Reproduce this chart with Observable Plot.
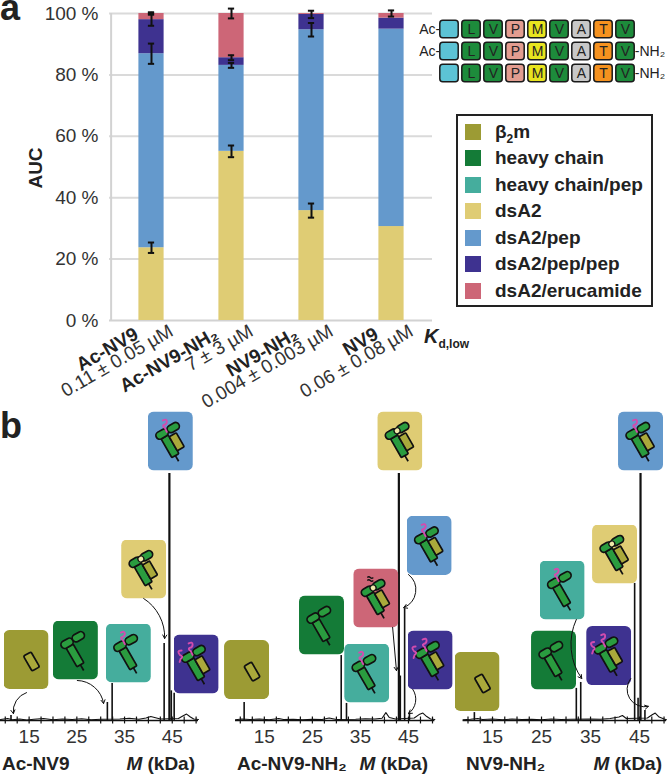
<!DOCTYPE html>
<html><head><meta charset="utf-8">
<script src="https://cdn.jsdelivr.net/npm/d3@7"></script>
<script src="https://cdn.jsdelivr.net/npm/@observablehq/plot@0.6"></script>
<style>
html,body{margin:0;padding:0;background:#fff;}
body{width:668px;height:775px;position:relative;overflow:hidden;font-family:"Liberation Sans",Arial,Helvetica,sans-serif;}
.abs{position:absolute;}
svg{overflow:visible;}
.sb{font-size:12px;position:relative;top:5px;}
</style></head><body>
<script>
const FONT = '"Liberation Sans", Arial, Helvetica, sans-serif';

// ---------------- Panel a data ----------------
const peptides = ["Ac-NV9", "Ac-NV9-NH₂", "NV9-NH₂", "NV9"];
const kdLabels = ["0.11 ± 0.05 µM", "7 ± 3 µM", "0.004 ± 0.003 µM", "0.06 ± 0.08 µM"];
const speciesKeys = ["b2m", "hc", "hcpep", "dsA2", "dsA2pep", "dsA2pep2", "dsA2eruc"];
const speciesNames = ["β<span class='sb'>2</span>m", "heavy chain", "heavy chain/pep", "dsA2", "dsA2/pep", "dsA2/pep/pep", "dsA2/erucamide"];
const speciesColors = ["#9c9b34", "#147b37", "#45ad9d", "#dfcc74", "#6499cc", "#3e3290", "#cd6677"];
const barSpecies = ["dsA2", "dsA2pep", "dsA2pep2", "dsA2eruc"];
const dsA2Share   = [23.7, 55.1, 35.8, 30.6];
const pepShare    = [63.2, 28.0, 58.9, 64.3];
const pepPepShare = [11.1, 2.5, 5.0, 3.6];
const erucShare   = [2.0, 14.4, 0.3, 1.5];
const dsA2Err   = [1.7, 1.9, 2.3, null];
const pepErr    = [3.3, 0.8, 2.2, null];
const pepPepErr = [2.0, 0.8, 1.2, null];
const erucErr   = [0.4, 1.6, null, 1.0];
const pctTicks = [0, 20, 40, 60, 80, 100];

// peptide sequence schematic
const seqRows = ["Ac-NV9", "Ac-NV9-NH₂", "NV9-NH₂"];
const seqResidues = ["", "L", "V", "P", "M", "V", "A", "T", "V"];
const seqColors = ["#5cc3d5", "#1d8b3b", "#1d8b3b", "#e39d90", "#e8e41f", "#1d8b3b", "#c8c8c8", "#f5921f", "#1d8b3b"];
const nTerm = ["Ac-", "Ac-", ""];
const cTerm = ["", "-NH₂", "-NH₂"];

// ---------------- Panel b data (M in kDa, relative intensity %) ----------------
const massTicks = [15, 25, 35, 45];
const minorMassTicks = [10, 12.5, 15, 17.5, 20, 22.5, 25, 27.5, 30, 32.5, 35, 37.5, 40, 42.5, 45, 47.5, 50];

const acNV9Peaks = [[11.2, 2], [31.4, 7.3], [32.4, 15], [43.3, 31.2], [44.4, 100], [44.8, 12], [45.4, 11]];
const acNV9NH2Peaks = [[10.8, 7.3], [31.0, 26.3], [32.1, 6.9], [43.0, 100], [43.3, 18], [44.2, 45.3], [45.2, 3]];
const nv9NH2Peaks = [[11.3, 3.2], [32.1, 13], [33.0, 15.4], [44.0, 55.5], [44.7, 9], [45.2, 100], [46.1, 4]];

const acNV9Noise = [[9,0.4],[10.5,0.8],[11.5,0.3],[13,0.6],[14.5,0.2],[16,0.5],[18,0.8],[20,0.3],[22,0.6],[24,0.4],[26,0.7],[28,0.3],[30,0.5],[34,0.6],[36,0.9],[38,0.5],[39.5,1.0],[40.5,1.6],[41.3,1.2],[42.5,0.6],[46.3,0.8],[47.2,1.8],[48,2.6],[48.8,1.4],[49.5,0.6],[50.5,0.4]];
const acNV9NH2Noise = [[9,0.3],[10.3,0.6],[12,0.4],[14,0.6],[16,0.3],[18,0.8],[19,0.4],[21,0.5],[23,0.3],[25,0.5],[27,0.4],[28.5,1.0],[30,0.4],[34,0.5],[36,0.7],[38,0.6],[39.5,0.9],[40.3,3.2],[41,1.2],[42.3,0.6],[46.2,1.0],[47.2,2.4],[48,3.0],[48.8,1.6],[49.6,0.6],[50.5,0.4]];
const nv9NH2Noise = [[9,0.3],[10.5,0.5],[12,0.8],[13,0.4],[15,0.6],[17,0.3],[19,0.6],[21,0.4],[23,0.5],[25,0.3],[27,0.6],[29,0.4],[31,0.5],[35,0.6],[37,0.5],[39,0.8],[40.8,1.4],[41.5,2.0],[42.3,0.8],[46.6,1.0],[47.5,2.2],[48.2,3.0],[49,1.4],[50,0.6],[50.5,0.3]];

const acNV9Icons = [
  {sp: "b2m", M: 14.35, v: 24.7}, {sp: "hc", M: 24.7, v: 28.5}, {sp: "hcpep", M: 35.8, v: 27.3},
  {sp: "dsA2", M: 39.0, v: 61.3}, {sp: "dsA2pep", M: 44.6, v: 113.2}, {sp: "dsA2pep2", M: 50.0, v: 22.9}
];
const acNV9NH2Icons = [
  {sp: "b2m", M: 11.3, v: 20.6}, {sp: "hc", M: 26.9, v: 38.7}, {sp: "dsA2eruc", M: 38.2, v: 49.6},
  {sp: "hcpep", M: 36.3, v: 19.2}, {sp: "dsA2", M: 43.2, v: 113.2}, {sp: "dsA2pep", M: 49.3, v: 70.9},
  {sp: "dsA2pep2", M: 49.5, v: 24.5}
];
const nv9NH2Icons = [
  {sp: "b2m", M: 11.84, v: 15.8}, {sp: "hc", M: 27.45, v: 24.5}, {sp: "hcpep", M: 29.2, v: 52.8},
  {sp: "dsA2", M: 39.9, v: 67.4}, {sp: "dsA2pep", M: 45.2, v: 113.2}, {sp: "dsA2pep2", M: 38.7, v: 26.3}
];

const acNV9Arrows = [
  {x1: 14.45, y1: 11.3, x2: 11.7, y2: 2.8, bend: -40},
  {x1: 25.1, y1: 16.2, x2: 30.6, y2: 6.9, bend: 40},
  {x1: 39.0, y1: 49.4, x2: 43.4, y2: 33.2, bend: 30}
];
const acNV9NH2Arrows = [
  {x1: 41.7, y1: 37.7, x2: 42.5, y2: 20.2, bend: 0},
  {x1: 45.0, y1: 59.1, x2: 44.0, y2: 45.7, bend: 60},
  {x1: 45.9, y1: 12.6, x2: 45.0, y2: 2.8, bend: 45}
];
const nv9NH2Arrows = [
  {x1: 32.1, y1: 40.9, x2: 33.2, y2: 17.0, bend: -30},
  {x1: 43.2, y1: 17.0, x2: 46.8, y2: 5.7, bend: -70}
];

// ---------------- helpers ----------------
function place(node, left, top) {
  const d = document.createElement("div");
  d.className = "abs";
  d.style.left = left + "px";
  d.style.top = top + "px";
  d.appendChild(node);
  document.body.appendChild(d);
  return d;
}
const baseStyle = {fontFamily: FONT, overflow: "visible", background: "transparent"};

// ---------------- Panel a: stacked bars ----------------
const shares = {dsA2: dsA2Share, dsA2pep: pepShare, dsA2pep2: pepPepShare, dsA2eruc: erucShare};
const errs = {dsA2: dsA2Err, dsA2pep: pepErr, dsA2pep2: pepPepErr, dsA2eruc: erucErr};
const barRows = [], errRows = [];
peptides.forEach((p, i) => {
  let cum = 0;
  barSpecies.forEach(s => {
    const v = shares[s][i];
    barRows.push({peptide: p, species: s, value: v});
    cum += v;
    const e = errs[s][i];
    if (e != null) errRows.push({peptide: p, y: cum, e});
  });
});
const step = (432 - 109) / peptides.length;
const capInset = step / 2 - 3.5;
const plotA = Plot.plot({
  width: 440, height: 405, marginLeft: 109, marginRight: 8, marginTop: 13, marginBottom: 85,
  style: baseStyle,
  x: {domain: peptides, padding: 0, axis: null},
  y: {domain: [0, 100], axis: null},
  color: {domain: speciesKeys, range: speciesColors},
  marks: [
    Plot.gridY(pctTicks.slice(1), {stroke: "#dadada", strokeOpacity: 1, strokeWidth: 2}),
    Plot.ruleY([0], {stroke: "#d2d2d2", strokeWidth: 2}),
    Plot.ruleX([peptides[0]], {y1: 0, y2: 100, dx: -step / 2, stroke: "#d2d2d2", strokeWidth: 2}),
    Plot.axisY({ticks: pctTicks, tickFormat: d => d + " %", tickSize: 0, tickPadding: 11, fontSize: 19, color: "#333", label: null}),
    Plot.barY(barRows, {x: "peptide", y: "value", fill: "species", order: barSpecies, insetLeft: 27.4, insetRight: 27.4}),
    Plot.ruleX(errRows, {x: "peptide", y1: d => d.y - d.e, y2: d => d.y + d.e, stroke: "#111", strokeWidth: 2}),
    Plot.tickY(errRows, {x: "peptide", y: d => d.y - d.e, insetLeft: capInset, insetRight: capInset, stroke: "#111", strokeWidth: 2}),
    Plot.tickY(errRows, {x: "peptide", y: d => d.y + d.e, insetLeft: capInset, insetRight: capInset, stroke: "#111", strokeWidth: 2}),
    Plot.text(peptides, {x: d => d, y: () => 0, text: d => d, rotate: -30, textAnchor: "end", dx: -15, dy: 12, fontSize: 19, fontWeight: "bold", fill: "#222"}),
    Plot.text(peptides, {x: d => d, y: () => 0, text: (d, i) => kdLabels[i], rotate: -30, textAnchor: "end", dx: 20, dy: 9, fontSize: 19, fill: "#333"})
  ]
});
place(plotA, 0, 0);

// ---------------- sequence schematic ----------------
const seqCells = [];
seqRows.forEach(r => seqResidues.forEach((res, j) => seqCells.push({row: r, pos: j, res, color: seqColors[j]})));
const plotSeq = Plot.plot({
  width: 668, height: 90, marginLeft: 437, marginRight: 31, marginTop: 17, marginBottom: 6,
  style: baseStyle,
  x: {type: "band", domain: d3.range(seqResidues.length), padding: 0, axis: null},
  y: {type: "band", domain: seqRows, padding: 0, axis: null},
  color: {type: "identity"},
  marks: [
    Plot.cell(seqCells, {x: "pos", y: "row", fill: "color", stroke: "#1a1a1a", strokeWidth: 1.5, rx: 3, insetLeft: 1.8, insetRight: 1.8, insetTop: 2.3, insetBottom: 2.3}),
    Plot.text(seqCells.filter(d => d.res), {x: "pos", y: "row", text: "res", fontSize: 14, fill: "#222"}),
    Plot.text(seqRows, {x: () => 0, y: d => d, text: (d, i) => nTerm[i], textAnchor: "end", dx: -9.3, fontSize: 14, fill: "#222"}),
    Plot.text(seqRows, {x: () => seqResidues.length - 1, y: d => d, text: (d, i) => cTerm[i], textAnchor: "start", dx: 9.3, fontSize: 14, fill: "#222"})
  ]
});
place(plotSeq, 0, 0);

// ---------------- legend ----------------
const leg = document.createElement("div");
leg.style.cssText = "position:relative;width:193px;height:189px;border:2px solid #222;background:#fff;";
speciesKeys.forEach((k, i) => {
  const cy = 132 + 26.45 * i - 116;
  const sw = document.createElement("div");
  sw.style.cssText = `position:absolute;left:7px;top:${cy - 8}px;width:16px;height:16px;background:${speciesColors[i]};`;
  leg.appendChild(sw);
  const t = document.createElement("div");
  t.style.cssText = `position:absolute;left:37px;top:${cy - 12}px;height:24px;line-height:24px;font-size:19px;font-weight:bold;color:#222;white-space:nowrap;`;
  t.innerHTML = speciesNames[i];
  leg.appendChild(t);
});
place(leg, 456, 114);

// ---------------- icons ----------------
const GREEN = "#2a9c3f", OLIVE = "#aaa93b", PEP = "#d24cae";
function iconURI(sp) {
  const color = speciesColors[speciesKeys.indexOf(sp)];
  const s = 'stroke="#111" stroke-width="1.6" stroke-linejoin="round"';
  let g = "", extra = "";
  if (sp === "b2m") {
    g = `<rect x="-4" y="-8" width="8" height="16" rx="1.5" fill="${OLIVE}" ${s}/>`;
  } else {
    const hasB2m = sp.startsWith("dsA2");
    g += `<rect x="-10" y="-10" width="7.5" height="20" rx="1" fill="${GREEN}" ${s}/>`;
    g += `<line x1="-6.25" y1="10" x2="-6.25" y2="16" ${s}/>`;
    if (hasB2m) g += `<rect x="-2.5" y="-8" width="7.5" height="15" rx="1" fill="${OLIVE}" ${s}/>`;
    g += `<rect x="-13" y="-17" width="12" height="7" rx="3.5" fill="${GREEN}" ${s}/>`;
    g += `<rect x="-1" y="-17" width="12" height="7" rx="3.5" fill="${GREEN}" ${s}/>`;
    if (sp === "dsA2" || sp === "dsA2eruc") g += `<circle cx="-1" cy="-13.5" r="2.8" fill="#efe9a8" stroke="#111" stroke-width="1.2"/>`;
    if (sp === "hcpep" || sp === "dsA2pep" || sp === "dsA2pep2")
      extra += `<path d="M15,9 q4,-2 4,1 q0,3 -3,3.5 q-2,1 1,3 l2,4" fill="none" stroke="${PEP}" stroke-width="1.9" stroke-linecap="round"/>`;
    if (sp === "dsA2pep2")
      extra += `<path d="M8,16 q-4,0 -3,2.5 q1,2.5 3,3 q1.5,1 -1,3 l-1,3" fill="none" stroke="${PEP}" stroke-width="1.9" stroke-linecap="round"/>`;
    if (sp === "dsA2eruc")
      extra += `<path d="M14,9 q1.5,-1.5 3,0 t3,0 M14,12 q1.5,-1.5 3,0 t3,0" fill="none" stroke="#111" stroke-width="1.3"/>`;
  }
  const svg = `<svg xmlns="http://www.w3.org/2000/svg" width="45" height="59" viewBox="0 0 45 59"><rect x="0" y="0" width="45" height="59" rx="6" fill="${color}"/><g transform="translate(28,31.5) scale(1.08) rotate(-30)">${g}</g>${extra}</svg>`;
  return "data:image/svg+xml;charset=utf-8," + encodeURIComponent(svg);
}

// ---------------- Panel b: spectra ----------------
const spectra = [
  {left: 0, width: 200, ml: 0, mr: 2, peaks: acNV9Peaks, noise: acNV9Noise, icons: acNV9Icons, arrows: acNV9Arrows},
  {left: 233, width: 204, ml: 2, mr: 2.6, peaks: acNV9NH2Peaks, noise: acNV9NH2Noise, icons: acNV9NH2Icons, arrows: acNV9NH2Arrows},
  {left: 460, width: 208, ml: 2.6, mr: 2, peaks: nv9NH2Peaks, noise: nv9NH2Noise, icons: nv9NH2Icons, arrows: nv9NH2Arrows}
];
spectra.forEach(p => {
  const pl = Plot.plot({
    width: p.width, height: 370, marginLeft: p.ml, marginRight: p.mr, marginTop: 68, marginBottom: 55,
    style: baseStyle,
    x: {domain: [9, 50.5], axis: null},
    y: {domain: [0, 100], axis: null},
    marks: [
      Plot.line(p.noise, {x: d => d[0], y: d => d[1], stroke: "#111", strokeWidth: 1.1}),
      Plot.ruleX(p.peaks, {x: d => d[0], y1: 0, y2: d => d[1], stroke: "#111", strokeWidth: d => d[1] >= 99 ? 2.2 : 1.6}),
      Plot.ruleY([0], {stroke: "#111", strokeWidth: 1.6}),
      Plot.ruleX(minorMassTicks, {x: d => d, y1: -1.4, y2: 1.4, stroke: "#111", strokeWidth: 1.2}),
      Plot.text(massTicks, {x: d => d, y: () => 0, text: d => String(d), dy: 16, fontSize: 19, fill: "#333"}),
      Plot.image(p.icons, {x: "M", y: "v", src: d => iconURI(d.sp), width: 45, height: 59}),
      ...p.arrows.map(a => Plot.arrow([a], {x1: "x1", y1: "y1", x2: "x2", y2: "y2", bend: a.bend, headLength: 6, stroke: "#111", strokeWidth: 1}))
    ]
  });
  place(pl, p.left, 405);
});

// ---------------- static labels ----------------
const ov = d3.create("svg").attr("width", 668).attr("height", 775)
  .style("position", "absolute").style("left", 0).style("top", 0).style("pointer-events", "none")
  .style("font-family", FONT);
ov.append("text").attr("x", 0).attr("y", 20).attr("font-size", 36).attr("font-weight", "bold").attr("fill", "#222").text("a");
ov.append("text").attr("x", 0).attr("y", 438).attr("font-size", 36).attr("font-weight", "bold").attr("fill", "#222").text("b");
ov.append("text").attr("transform", "translate(42,168) rotate(-90)").attr("text-anchor", "middle")
  .attr("font-size", 19).attr("font-weight", "bold").attr("fill", "#222").text("AUC");
const kd = ov.append("text").attr("x", 424).attr("y", 343).attr("font-weight", "bold").attr("fill", "#222");
kd.append("tspan").attr("font-size", 20).attr("font-style", "italic").text("K");
kd.append("tspan").attr("font-size", 12).attr("dy", 5).text("d,low");
const bottomNames = [["Ac-NV9", 2, 195], ["Ac-NV9-NH₂", 237, 428], ["NV9-NH₂", 466, 662]];
bottomNames.forEach(([n, x, xr]) => {
  ov.append("text").attr("x", x).attr("y", 770).attr("font-size", 19).attr("font-weight", "bold").attr("fill", "#222").text(n);
  const t = ov.append("text").attr("x", xr).attr("y", 770).attr("text-anchor", "end").attr("font-size", 19).attr("font-weight", "bold").attr("fill", "#222");
  t.append("tspan").attr("font-style", "italic").text("M");
  t.append("tspan").text(" (kDa)");
});
document.body.appendChild(ov.node());
</script>
</body></html>
